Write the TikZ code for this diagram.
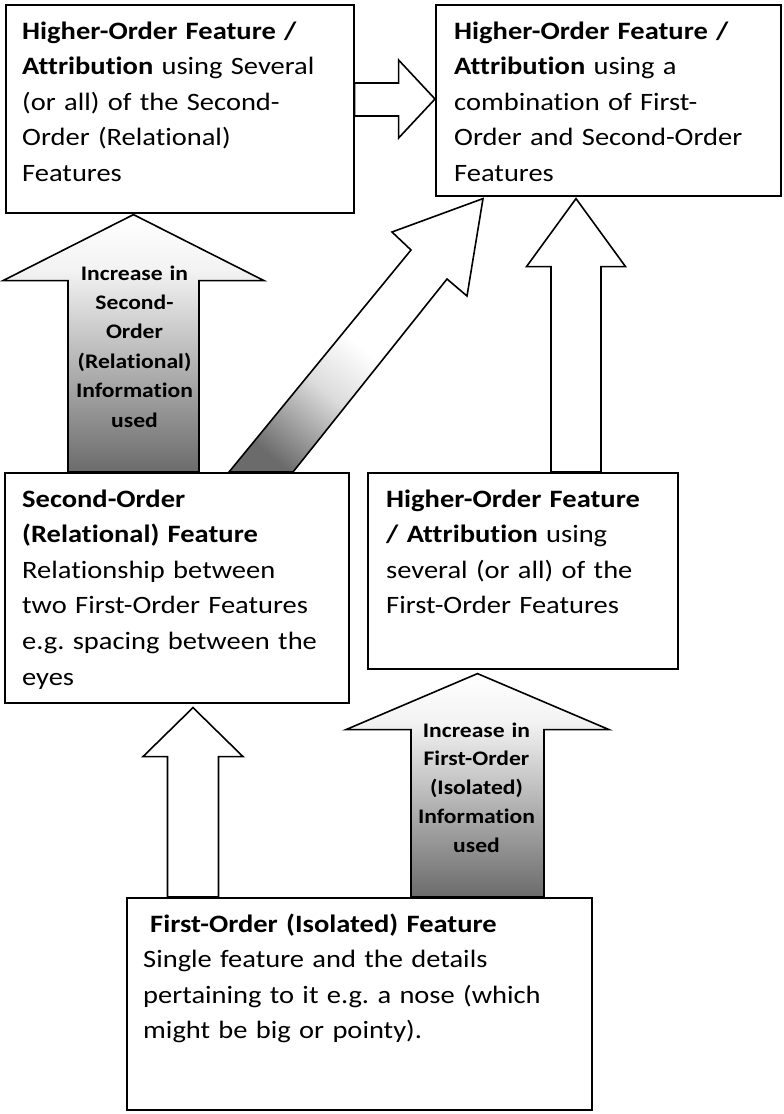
\documentclass[tikz,border=0pt]{standalone}
\usepackage{fontspec}
\setmainfont[FakeStretch=1.14, Ligatures={NoCommon}]{Carlito}
\usetikzlibrary{calc}
\pgfdeclareverticalshading{upshadeB}{100bp}{rgb(0bp)=(0.42,0.42,0.42); rgb(25bp)=(0.42,0.42,0.42); rgb(64bp)=(0.95,0.95,0.95); rgb(75bp)=(1,1,1); rgb(100bp)=(1,1,1)}
\pgfdeclareverticalshading{upshadeC}{100bp}{rgb(0bp)=(0.42,0.42,0.42); rgb(22bp)=(0.42,0.42,0.42); rgb(38bp)=(0.86,0.86,0.86); rgb(49bp)=(1,1,1); rgb(100bp)=(1,1,1)}
\begin{document}
\frenchspacing
\begin{tikzpicture}[x=1pt,y=-1pt,
  box/.style={draw, line width=1.6pt, rectangle, inner sep=0pt, anchor=north west},
  txt/.style={anchor=base west, inner sep=0pt, text width=#1, align=left, font=\frenchspacing\fontsize{25}{35.6}\selectfont},
  lbl/.style={anchor=base, inner sep=0pt, text width=150pt, align=center, font=\bfseries\fontsize{20.7}{#1}\selectfont},
  blockarrow/.style={draw, line width=1.6pt, line join=miter, fill=white},
  gradarrow/.style={draw, line width=1.6pt, line join=miter, shading=upshadeB},
  diagarrow/.style={draw, line width=1.6pt, line join=miter, shading=upshadeC, shading angle=-39}]
\useasboundingbox (0,0) rectangle (784,1114);

% boxes
\node[box, minimum width=348pt, minimum height=208pt] (b1) at (5,4) {};
\node[box, minimum width=345pt, minimum height=191pt] (b2) at (435,4) {};
\node[box, minimum width=344pt, minimum height=230pt] (b3) at (4,472) {};
\node[box, minimum width=310pt, minimum height=196pt] (b4) at (367,472) {};
\node[box, minimum width=465pt, minimum height=212pt] (b5) at (126,897) {};

% texts
\node[txt=330pt] (t1) at (22,39) {\textbf{Higher-Order Feature /}\\ \textbf{Attribution} using Several\\ (or all) of the Second-\\ Order (Relational)\\ Features};
\node[txt=320pt] (t2) at (454,39) {\textbf{Higher-Order Feature /}\\ \textbf{Attribution} using a\\ combination of First-\\ Order and Second-Order\\ Features};
\node[txt=320pt] (t3) at (22,507) {\textbf{Second-Order}\\ \textbf{(Relational) Feature}\\ Relationship between\\ two First-Order Features\\ e.g. spacing between the\\ eyes};
\node[txt=295pt] (t4) at (386,507) {\textbf{Higher-Order Feature}\\ \textbf{/ Attribution} using\\ several (or all) of the\\ First-Order Features};
\node[txt=440pt] (t5) at (143,932) {\hspace*{7pt}\textbf{First-Order (Isolated) Feature}\\ Single feature and the details\\ pertaining to it e.g. a nose (which\\ might be big or pointy).};

% arrow A: b1 -> b2
\coordinate (Ab) at ($(b1.north east)+(0,95)$);
\coordinate (At) at (b2.west |- Ab);
\draw[blockarrow] ($(Ab)+(0,-16)$) -- ++(44,0) -- ++(0,-23) -- (At) -- ($(Ab)+(44,39)$) -- ++(0,-22) -- ($(Ab)+(0,17)$) -- cycle;

% arrow B: b3 -> b1
\coordinate (Bb) at ($(b3.north west)+(129.5,0)$);
\coordinate (Bt) at ($(Bb |- b1.south)+(0,1)$);
\draw[gradarrow] ($(Bb)+(-65.5,0)$) -- ($(Bt)+(-65.5,66)$) -- ($(Bt)+(-130.5,66)$) -- (Bt) -- ($(Bt)+(130.5,66)$) -- ($(Bt)+(65.5,66)$) -- ($(Bb)+(65.5,0)$) -- cycle;
\node[lbl=29.4pt] (lB) at ($(Bb |- 0,280)+(1,0)$) {Increase in\\ Second-\\ Order\\ (Relational)\\ Information\\ used};

% arrow C: b3 -> b2 (diagonal)
\coordinate (Cb) at ($(b3.north west)+(225,0)$);
\coordinate (Ct) at ($(b2.south west)+(48,2)$);
\draw[diagarrow] (Cb) -- (411,250) -- (392,232) -- (Ct) -- (467,296) -- (447,279) -- ($(Cb)+(64,0)$) -- cycle;

% arrow D: b4 -> b2
\coordinate (Db) at ($(b4.north west)+(209,0)$);
\coordinate (Dt) at ($(Db |- b2.south)+(0,2)$);
\draw[blockarrow] ($(Db)+(-25,0)$) -- ($(Dt)+(-25,68)$) -- ($(Dt)+(-49.5,68)$) -- (Dt) -- ($(Dt)+(49.5,68)$) -- ($(Dt)+(25,68)$) -- ($(Db)+(25,0)$) -- cycle;

% arrow E: b5 -> b3
\coordinate (Eb) at ($(b5.north west)+(67,0)$);
\coordinate (Et) at ($(Eb |- b3.south)+(0,4)$);
\draw[blockarrow] ($(Eb)+(-25.5,0)$) -- ($(Et)+(-25.5,49)$) -- ($(Et)+(-50,49)$) -- (Et) -- ($(Et)+(50,49)$) -- ($(Et)+(25.5,49)$) -- ($(Eb)+(25.5,0)$) -- cycle;

% arrow F: b5 -> b4
\coordinate (Fb) at ($(b5.north west)+(351.5,0)$);
\coordinate (Ft) at ($(Fb |- b4.south)+(0,4)$);
\draw[gradarrow] ($(Fb)+(-66.5,0)$) -- ($(Ft)+(-66.5,56)$) -- ($(Ft)+(-131.5,56)$) -- (Ft) -- ($(Ft)+(131.5,56)$) -- ($(Ft)+(66.5,56)$) -- ($(Fb)+(66.5,0)$) -- cycle;
\node[lbl=28.75pt] (lF) at ($(Fb |- 0,737)+(-1,0)$) {Increase in\\ First-Order\\ (Isolated)\\ Information\\ used};
\end{tikzpicture}
\end{document}
